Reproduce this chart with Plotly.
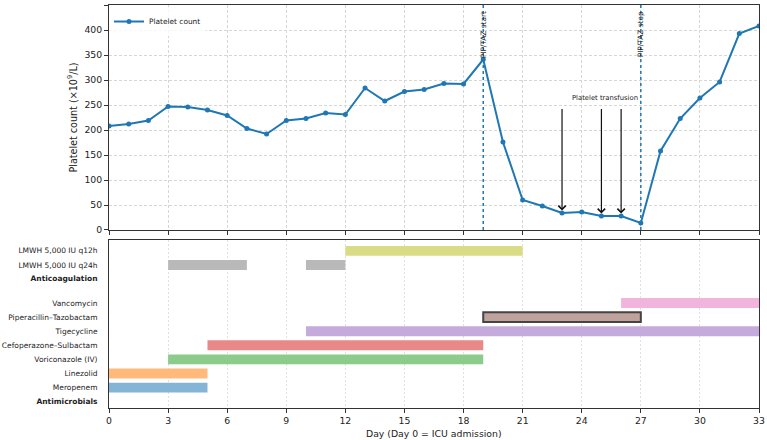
import plotly.graph_objects as go

days = list(range(34))
platelets = [208, 212, 219, 247, 246, 240, 229, 203, 192, 219, 223, 234, 231, 284, 258,
             277, 281, 293, 292, 341, 176, 60, 48, 34, 36, 28, 28, 14, 158, 223, 264, 296, 393, 408]

pip_start, pip_stop = 19, 27
transfusion_days = [23, 25, 26]

# therapy rows
row_labels = ["<b>Antimicrobials</b>", "Meropenem", "Linezolid", "Voriconazole (IV)",
              "Cefoperazone–Sulbactam", "Tigecycline", "Piperacillin–Tazobactam", "Vancomycin",
              "<b>Anticoagulation</b>", "LMWH 5,000 IU q24h", "LMWH 5,000 IU q12h"]
row_pos = [0, 1, 2, 3, 4, 5, 6, 7, 8.75, 9.7, 10.7]

therapy_names = ["Meropenem", "Linezolid", "Voriconazole (IV)", "Cefoperazone–Sulbactam",
                 "Tigecycline", "Piperacillin–Tazobactam", "Vancomycin",
                 "LMWH 5,000 IU q24h", "LMWH 5,000 IU q24h", "LMWH 5,000 IU q12h"]
therapy_start = [0, 0, 3, 5, 10, 19, 26, 3, 10, 12]
therapy_end = [5, 5, 19, 19, 33, 27, 33, 7, 12, 21]
therapy_color = ["#84b4d6", "#ffb97a", "#8bcb8b", "#e88889", "#c4abdb", "#c0a29c",
                 "#f0b4dd", "#b9b9b9", "#b9b9b9", "#dadb85"]
therapy_edge = [None, None, None, None, None, "#444444", None, None, None, None]

fig = go.Figure()

fig.add_trace(go.Scatter(x=days, y=platelets, mode="lines+markers", name="Platelet count",
                         line=dict(color="#1f77b4", width=2), marker=dict(size=5, color="#1f77b4"),
                         xaxis="x", yaxis="y"))

pos_of = dict(zip(row_labels, row_pos))
for name, s, e, c, ed in zip(therapy_names, therapy_start, therapy_end, therapy_color, therapy_edge):
    fig.add_trace(go.Bar(x=[e - s], base=[s], y=[pos_of[name]], orientation="h", width=0.7,
                         marker=dict(color=c, line=dict(color=ed or c, width=2 if ed else 0)),
                         showlegend=False, xaxis="x2", yaxis="y2", hoverinfo="skip"))

shapes = []
annotations = []
for d, lab in [(pip_start, "PIP/TAZ start"), (pip_stop, "PIP/TAZ stop")]:
    shapes.append(dict(type="line", xref="x", yref="y", x0=d, x1=d, y0=0, y1=450,
                       line=dict(color="#1f77b4", width=1.5, dash="dot")))
    annotations.append(dict(x=d, y=441, xref="x", yref="y", text=lab, textangle=-90,
                            showarrow=False, xanchor="center", yanchor="top",
                            font=dict(size=7.4, color="#222")))

for d in transfusion_days:
    annotations.append(dict(x=d, y=platelets[d] + 5, xref="x", yref="y", ax=d, ay=245,
                            axref="x", ayref="y", text="", showarrow=True, arrowhead=4,
                            arrowsize=1.2, arrowwidth=1.2, arrowcolor="#111"))
annotations.append(dict(x=25.2, y=253, xref="x", yref="y", text="Platelet transfusion",
                        showarrow=False, xanchor="center", yanchor="bottom",
                        font=dict(size=6.8, color="#222")))
annotations.append(dict(x=0.5, y=-25 / 403, xref="paper", yref="paper",
                        text="Day (Day 0 = ICU admission)", showarrow=False,
                        xanchor="center", yanchor="middle", font=dict(size=9.3, color="#222")))

axis_common = dict(showline=True, linecolor="#333", linewidth=1, mirror=True,
                   ticks="outside", ticklen=4, tickcolor="#333",
                   tickfont=dict(size=9.3, color="#222"), automargin=False)

fig.update_layout(
    width=767, height=440, margin=dict(l=109, r=8, t=5, b=32),
    paper_bgcolor="white", plot_bgcolor="white",
    font=dict(family="DejaVu Sans", color="#222"),
    barmode="overlay",
    shapes=shapes, annotations=annotations,
    legend=dict(x=0.0, y=0.995, xanchor="left", yanchor="top", bgcolor="rgba(255,255,255,0.8)",
                font=dict(size=7.4), itemwidth=30),
    xaxis=dict(domain=[0, 1], anchor="y", range=[0, 33], tickvals=list(range(0, 34, 3)),
               showticklabels=False, showgrid=True, gridcolor="#d6d6d6", griddash="3px,2px",
               zeroline=False, **axis_common),
    yaxis=dict(domain=[0.4417, 1], anchor="x", range=[0, 450], dtick=50,
               showgrid=True, gridcolor="#d6d6d6", griddash="3px,2px", zeroline=False,
               title=dict(text="Platelet count (×10<sup>9</sup>/L)", font=dict(size=9.6), standoff=5),
               **axis_common),
    xaxis2=dict(domain=[0, 1], anchor="y2", range=[0, 33], tickvals=list(range(0, 34, 3)),
                showgrid=True, gridcolor="#e0e0e0", griddash="2px,2px", zeroline=False,
                **axis_common),
    yaxis2=dict(domain=[0, 0.4179], anchor="x2", range=[-0.45, 11.5],
                tickvals=row_pos, ticktext=row_labels, showgrid=False, zeroline=False,
                showline=True, linecolor="#333", mirror=True, ticks="", automargin=False,
                ticklabelstandoff=9, tickfont=dict(size=7.5, color="#222")),
)

fig.write_html("out.html")
